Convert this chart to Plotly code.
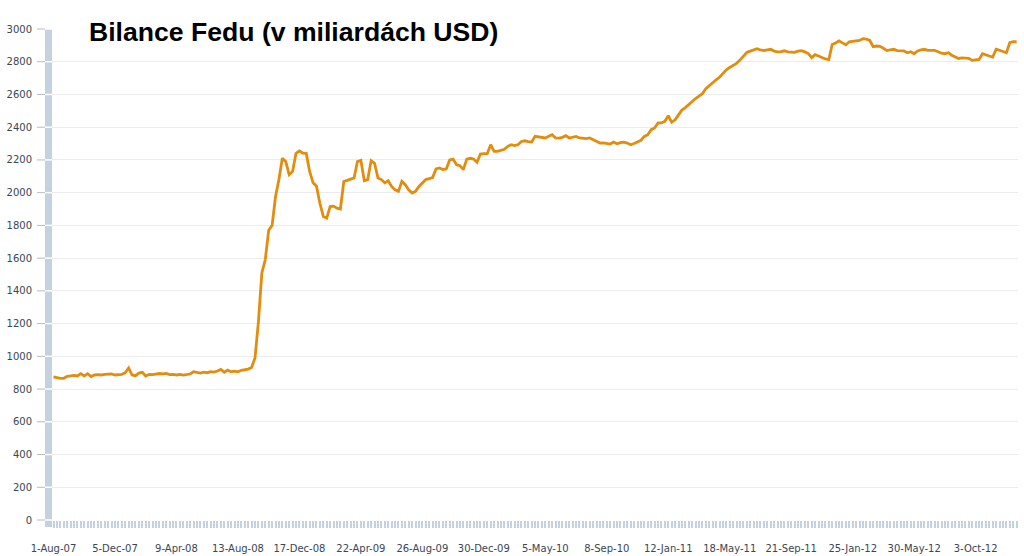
import plotly.graph_objects as go

# Weekly Fed balance sheet (billions USD), week 0 = 1-Aug-07
balance = [
    875, 868, 865, 866, 878, 880, 884, 880, 894, 880,
    894, 876, 886, 888, 886, 890, 890, 892, 886, 888,
    890, 900, 929, 886, 882, 898, 902, 880, 890, 888,
    892, 895, 893, 896, 888, 890, 886, 890, 885, 888,
    892, 906, 904, 898, 903, 900, 906, 904, 910, 920,
    903, 916, 906, 910, 905, 915, 918, 922, 932, 990,
    1210, 1510, 1590, 1770, 1800, 1975, 2080, 2210, 2190, 2110,
    2130, 2240, 2255, 2242, 2240, 2130, 2060, 2040, 1935, 1855,
    1845, 1915, 1918, 1905, 1900, 2068, 2075, 2082, 2090, 2190,
    2197, 2073, 2080, 2195, 2180, 2090, 2080, 2060, 2073, 2038,
    2018, 2008, 2069, 2049, 2018, 1998, 2008, 2038, 2059, 2080,
    2086, 2092, 2145, 2151, 2141, 2145, 2200, 2205, 2171, 2165,
    2141, 2205, 2210, 2205, 2185, 2236, 2238, 2238, 2293, 2252,
    2252, 2258, 2265, 2283, 2293, 2288, 2293, 2313, 2317, 2312,
    2309, 2344, 2340, 2336, 2334, 2345, 2354, 2334, 2333, 2338,
    2348, 2334, 2340, 2344, 2334, 2332, 2330, 2334, 2322, 2310,
    2303, 2304, 2300, 2297, 2309, 2299, 2306, 2309, 2303, 2293,
    2300, 2310, 2320, 2344, 2354, 2385, 2395, 2426, 2426, 2436,
    2470, 2430, 2445, 2475, 2505, 2520, 2540, 2555, 2575, 2590,
    2605, 2635, 2655, 2675, 2690, 2705, 2730, 2750, 2765, 2776,
    2790, 2810, 2835, 2857, 2865, 2872, 2880, 2872, 2868, 2873,
    2876, 2865, 2860, 2862, 2867, 2860, 2857, 2857, 2865, 2868,
    2860, 2850, 2825, 2843, 2835, 2825, 2817, 2813, 2905, 2915,
    2928, 2915, 2904, 2922, 2924, 2926, 2930, 2941, 2938, 2930,
    2892, 2896, 2894, 2882, 2868, 2872, 2876, 2868, 2866, 2866,
    2855, 2861, 2849, 2866, 2872, 2876, 2870, 2870, 2870, 2861,
    2852, 2849, 2855, 2840, 2828, 2820, 2824, 2824, 2820, 2808,
    2812, 2814, 2849, 2840, 2835, 2829, 2876, 2870, 2860, 2855,
    2916, 2922, 2922,
]
weeks = list(range(len(balance)))

tick_labels = [
    "1-Aug-07", "5-Dec-07", "9-Apr-08", "13-Aug-08", "17-Dec-08",
    "22-Apr-09", "26-Aug-09", "30-Dec-09", "5-May-10", "8-Sep-10",
    "12-Jan-11", "18-May-11", "21-Sep-11", "25-Jan-12", "30-May-12",
    "3-Oct-12",
]
tick_step = 18
tick_positions = [i * tick_step for i in range(len(tick_labels))]

y_max = 3000
y_ticks = list(range(0, y_max + 1, 200))

title_text = "Bilance Fedu (v miliardách USD)"

LINE_COLOR = "#e38d0f"
BAND_COLOR = "#c3d1e0"
TICK_GRAY = "#b4bcc5"
FONT = "DejaVu Sans, Verdana, sans-serif"

fig = go.Figure()
fig.add_trace(go.Scatter(
    x=weeks, y=balance, mode="lines",
    line=dict(color=LINE_COLOR, width=2.8),
    showlegend=False,
))

# left axis band with white breaks and gray outer ticks (decoration)
shapes = [dict(
    type="rect", xref="paper", yref="paper",
    xsizemode="pixel", xanchor=0, x0=-7, x1=0,
    y0=-7 / 491, y1=1,
    fillcolor=BAND_COLOR, line=dict(width=0), layer="below",
)]
for v in y_ticks:
    yp = v / y_max
    shapes.append(dict(
        type="line", xref="paper", yref="paper",
        xsizemode="pixel", xanchor=0, x0=-15, x1=-7, y0=yp, y1=yp,
        line=dict(color=TICK_GRAY, width=1), layer="below",
    ))
    shapes.append(dict(
        type="line", xref="paper", yref="paper",
        xsizemode="pixel", xanchor=0, x0=-7, x1=0, y0=yp, y1=yp,
        line=dict(color="white", width=1.5), layer="below",
    ))

fig.update_layout(
    width=1024, height=556,
    margin=dict(l=52, r=6, t=29, b=36),
    paper_bgcolor="white", plot_bgcolor="white",
    font=dict(family=FONT, size=10, color="#3a4652"),
    xaxis=dict(
        range=[-0.44, len(balance) - 1 + 0.4], automargin=False,
        tickmode="array", tickvals=tick_positions, ticktext=tick_labels,
        ticks="outside", ticklen=7, tickwidth=1.5, tickcolor=BAND_COLOR,
        ticklabelstandoff=12,
        minor=dict(dtick=1, tick0=0, ticks="outside", ticklen=7,
                   tickwidth=1.5, tickcolor=BAND_COLOR, showgrid=False),
        showgrid=False, zeroline=False, showline=False,
        tickfont=dict(size=10, color="#3a4652"),
    ),
    yaxis=dict(
        range=[0, y_max], tickmode="array", tickvals=y_ticks, automargin=False,
        ticks="", showgrid=True, gridcolor="#ececec", gridwidth=1,
        zeroline=False, showline=False,
        tickfont=dict(size=10, color="#3a4652"),
        ticklabelstandoff=19,
    ),
    shapes=shapes,
    annotations=[dict(
        text=title_text, xref="paper", yref="paper",
        x=35 / 966, y=1 - 3 / 491, xanchor="left", yanchor="middle",
        showarrow=False,
        font=dict(family="Liberation Sans, Arial, sans-serif", size=26.6,
                  color="black", weight="bold"),
    )],
)

fig.write_html(
    "out.html",
    config={"displayModeBar": False},
    post_script="document.body.style.margin='0';document.body.style.padding='0';",
)
